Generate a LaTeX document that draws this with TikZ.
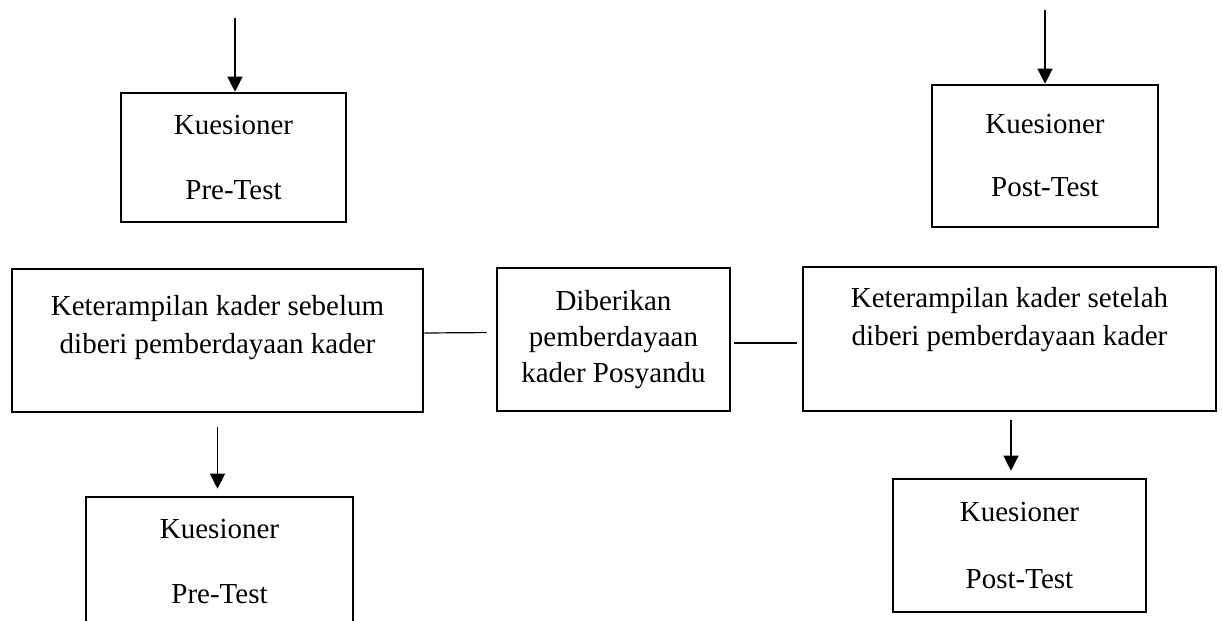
\documentclass[tikz,border=0pt]{standalone}
\usepackage{fontspec}
\setmainfont{Liberation Serif}
\usetikzlibrary{arrows.meta}
\begin{document}
\begin{tikzpicture}[x=0.5pt, y=-0.5pt,
    box/.style={draw, line width=1.3pt, align=center, inner sep=0pt,
      font=\fontsize{14.5}{19}\selectfont},
    arr/.style={-{Triangle[length=7.5pt,width=7.5pt]}, line width=0.6pt},
    link/.style={line width=0.6pt}]
  \useasboundingbox (0,0) rectangle (1222,621);
  \clip (0,0) rectangle (1222,621);

  \node[box, minimum width=112.5pt, minimum height=64.5pt] (preTop) at (233.5,157.5) {Kuesioner\\[13.5pt]Pre-Test};
  \node[box, minimum width=113pt, minimum height=71pt] (postTop) at (1045,156) {Kuesioner\\[12.5pt]Post-Test};

  \node[box, minimum width=205.5pt, minimum height=71.5pt] (before) at (217.5,340.5) {Keterampilan kader sebelum\\diberi pemberdayaan kader\\[-3pt]\mbox{}};
  \node[box, minimum width=116.5pt, minimum height=71.5pt, font=\fontsize{14.5}{18}\selectfont] (give) at (613.5,339.5) {Diberikan\\pemberdayaan\\kader Posyandu};
  \node[box, minimum width=206.5pt, minimum height=72pt] (after) at (1009.5,339) {Keterampilan kader setelah\\diberi pemberdayaan kader\\[3.5pt]\mbox{}};

  \node[box, minimum width=133.5pt, minimum height=64.5pt] (preBot) at (219.5,561.5) {Kuesioner\\[13.5pt]Pre-Test};
  \node[box, minimum width=126.5pt, minimum height=66.5pt] (postBot) at (1019.5,545.5) {Kuesioner\\[14.5pt]Post-Test};

  \coordinate (inPre) at (235,18);
  \coordinate (inPost) at (1045,10);
  \draw[arr] (inPre) -- (inPre |- preTop.north);
  \draw[arr] (inPost) -- (postTop.north);

  \draw[link, shorten >=4.5pt] ([yshift=3.75pt]before.east) -- ([yshift=3.5pt]give.west);
  \draw[link, shorten <=1.5pt, shorten >=2.5pt] ([yshift=-1.75pt]give.east) -- ([yshift=-2pt]after.west);

  \draw[arr, shorten >=3.5pt] ([yshift=-7pt]before.south) -- (before.south |- preBot.north);
  \draw[arr, shorten >=3.5pt] ([xshift=0.75pt,yshift=-4pt]after.south) -- ([xshift=0.75pt]after.south |- postBot.north);
\end{tikzpicture}
\end{document}
